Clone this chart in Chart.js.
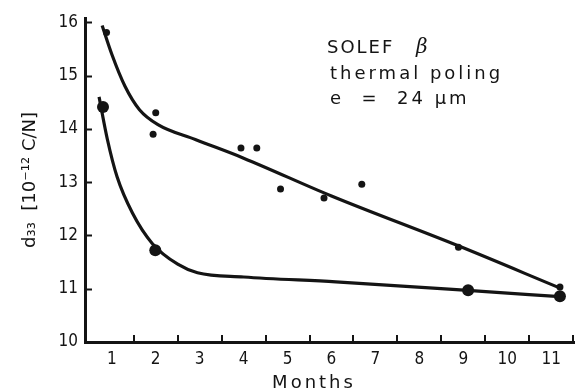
<!DOCTYPE html>
<html>
<head>
<meta charset="utf-8">
<script src="https://cdn.jsdelivr.net/npm/chart.js@4.4.1/dist/chart.umd.min.js"></script>
<style>
  html, body { margin: 0; padding: 0; background: #fff; overflow: hidden; }
  canvas { display: block; }
</style>
</head>
<body>
<canvas id="c" width="580" height="388"></canvas>
<script>
// Measured d33 values (upper: small dots, lower: large dots)
const upperMonths = [0.88, 1.94, 2.0, 3.94, 4.3, 4.84, 5.83, 6.69, 8.89, 11.2];
const upperD33    = [15.81, 13.9, 14.3, 13.64, 13.64, 12.87, 12.7, 12.96, 11.78, 11.03];
const lowerMonths = [0.8, 1.99, 9.11, 11.2];
const lowerD33    = [14.41, 11.72, 10.97, 10.86];

// Hand-drawn trend curves through each set
const upperFitMonths = [0.78, 1.0, 1.3, 1.63, 2.05, 2.9, 4.0, 6.0, 8.9, 11.15];
const upperFitD33    = [15.94, 15.4, 14.8, 14.36, 14.08, 13.8, 13.45, 12.74, 11.8, 11.03];
const lowerFitMonths = [0.71, 0.9, 1.12, 1.47, 1.92, 2.5, 2.95, 4.0, 6.1, 9.1, 11.2];
const lowerFitD33    = [14.6, 13.8, 13.1, 12.42, 11.85, 11.46, 11.3, 11.22, 11.13, 10.97, 10.85];

// Axis ticks
const monthTicks = [1, 2, 3, 4, 5, 6, 7, 8, 9, 10, 11];
const monthMarks = [1.5, 2.5, 3.5, 4.5, 5.5, 6.5, 7.5, 8.5, 9.5, 10.5, 11.5];
const d33Ticks   = [10, 11, 12, 13, 14, 15, 16];

// Annotation block
const noteLines = ['SOLEF β', 'thermal poling', 'e  =  24 μm'];
const xTitle = 'Months';
const yTitle = 'd₃₃  [10⁻¹² C/N]';

const ink = '#141414';
const pts = (xs, ys) => xs.map((x, i) => ({ x, y: ys[i] }));

// Inward tick marks, annotation text and the x-axis caption
const decorations = {
  id: 'decorations',
  afterDraw(chart) {
    const { ctx, chartArea, scales } = chart;
    const x = scales.x, y = scales.y;
    ctx.save();
    ctx.strokeStyle = ink;
    ctx.lineWidth = 2;
    d33Ticks.forEach(v => {
      if (v === 10) return;
      const py = Math.round(y.getPixelForValue(v)) + 0.5;
      ctx.beginPath();
      ctx.moveTo(chartArea.left, py);
      ctx.lineTo(chartArea.left + 7, py);
      ctx.stroke();
    });
    monthMarks.forEach(v => {
      const px = Math.round(x.getPixelForValue(v));
      ctx.beginPath();
      ctx.moveTo(px, chartArea.bottom);
      ctx.lineTo(px, chartArea.bottom - 7);
      ctx.stroke();
    });

    ctx.fillStyle = ink;
    ctx.textBaseline = 'alphabetic';
    ctx.textAlign = 'left';
    ctx.font = '18px "DejaVu Sans"';
    try { ctx.letterSpacing = '3px'; } catch (e) {}
    ctx.fillText(noteLines[1], 330, 79);
    ctx.fillText(noteLines[2], 330, 104);
    try { ctx.letterSpacing = '2px'; } catch (e) {}
    ctx.fillText('SOLEF', 327, 53);
    ctx.font = 'italic 20px "DejaVu Serif"';
    try { ctx.letterSpacing = '0px'; } catch (e) {}
    ctx.fillText('β', 416, 53);

    ctx.font = '18px "DejaVu Sans"';
    try { ctx.letterSpacing = '3px'; } catch (e) {}
    ctx.textAlign = 'center';
    ctx.fillText(xTitle, 314, 388);
    ctx.restore();
  }
};

new Chart(document.getElementById('c'), {
  type: 'scatter',
  data: {
    datasets: [
      {
        data: pts(upperMonths, upperD33),
        pointRadius: 3.5,
        pointBackgroundColor: ink,
        pointBorderWidth: 0,
        showLine: false,
        order: 0
      },
      {
        data: pts(lowerMonths, lowerD33),
        pointRadius: 6,
        pointBackgroundColor: ink,
        pointBorderWidth: 0,
        showLine: false,
        order: 0
      },
      {
        data: pts(upperFitMonths, upperFitD33),
        showLine: true,
        borderColor: ink,
        borderWidth: 3.2,
        pointRadius: 0,
        cubicInterpolationMode: 'monotone',
        order: 1
      },
      {
        data: pts(lowerFitMonths, lowerFitD33),
        showLine: true,
        borderColor: ink,
        borderWidth: 3.2,
        pointRadius: 0,
        cubicInterpolationMode: 'monotone',
        order: 1
      }
    ]
  },
  options: {
    responsive: false,
    animation: false,
    layout: { padding: { top: 18, right: 0, bottom: 0, left: 0 } },
    plugins: {
      legend: { display: false },
      tooltip: { enabled: false }
    },
    scales: {
      x: {
        type: 'linear',
        min: 0.39,
        max: 11.52,
        afterBuildTicks: s => { s.ticks = monthTicks.map(v => ({ value: v })); },
        afterFit: s => { s.height = 46; },
        grid: { display: false, drawTicks: false },
        border: { display: true, color: ink, width: 3 },
        ticks: {
          color: ink,
          padding: 7,
          maxRotation: 0,
          autoSkip: false,
          font: { family: '"DejaVu Sans Condensed"', size: 17 }
        }
      },
      y: {
        type: 'linear',
        min: 10,
        max: 16.08,
        afterBuildTicks: s => { s.ticks = d33Ticks.map(v => ({ value: v })); },
        afterFit: s => { s.width = 85; },
        grid: { display: false, drawTicks: false },
        border: { display: true, color: ink, width: 3 },
        ticks: {
          color: ink,
          padding: 7,
          autoSkip: false,
          font: { family: '"DejaVu Sans Condensed"', size: 17 }
        },
        title: {
          display: true,
          text: yTitle,
          color: ink,
          padding: { top: 20, bottom: 0 },
          font: { family: '"DejaVu Sans"', size: 18 }
        }
      }
    }
  },
  plugins: [decorations]
});
</script>
</body>
</html>
